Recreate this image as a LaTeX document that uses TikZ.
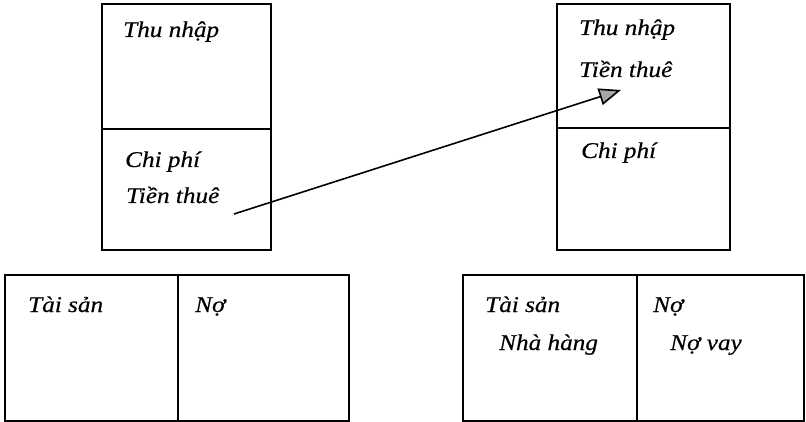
\documentclass[tikz,border=0pt]{standalone}
\usepackage{fontspec}
\setmainfont{Liberation Serif}
\newfontfamily\lbl[FakeStretch=1.12,FakeBold=0.4]{Liberation Serif}
\usetikzlibrary{arrows.meta}
\tikzset{
  cell/.style={draw, line width=1.5pt, rectangle, inner sep=0pt},
  lab/.style={anchor=base west, inner sep=0pt, font=\lbl\itshape\fontsize{22.5}{26}\selectfont},
}
\begin{document}
\begin{tikzpicture}[x=1pt,y=-1pt]
\useasboundingbox (0,0) rectangle (806,422);
% top-left statement
\node[cell, minimum width=169pt, minimum height=125pt] (inc1) at (186.5,66.5) {};
\node[cell, minimum width=169pt, minimum height=121pt] (exp1) at (186.5,189.5) {};
% top-right statement
\node[cell, minimum width=173pt, minimum height=124pt] (inc2) at (643.5,66) {};
\node[cell, minimum width=173pt, minimum height=122pt] (exp2) at (643.5,189) {};
% bottom-left balance
\node[cell, minimum width=173pt, minimum height=146pt] (as1) at (91.5,348) {};
\node[cell, minimum width=171pt, minimum height=146pt] (li1) at (263.5,348) {};
% bottom-right balance
\node[cell, minimum width=174pt, minimum height=146pt] (as2) at (550,348) {};
\node[cell, minimum width=167pt, minimum height=146pt] (li2) at (720.5,348) {};
% labels
\node[lab] (t1) at (123,37) {Thu nhập};
\node[lab] (c1) at (125,167) {Chi phí};
\node[lab] (r1) at (126,203) {Tiền thuê};
\node[lab] (t2) at (579,35) {Thu nhập};
\node[lab] (r2) at (579,77) {Tiền thuê};
\node[lab] (c2) at (581,158) {Chi phí};
\node[lab] (a1) at (28,312) {Tài sản};
\node[lab] (n1) at (195,312) {Nợ};
\node[lab] (a2) at (485,312) {Tài sản};
\node[lab] (h2) at (499,350) {Nhà hàng};
\node[lab] (n2) at (653,312) {Nợ};
\node[lab] (v2) at (670,350) {Nợ vay};
% arrow
\coordinate (from) at (234,214);
\coordinate (to) at (621,90);
\draw[line width=1.6pt, -{Triangle[length=22pt,width=17pt,fill=gray!70,line width=1.6pt]}] (from) -- (to);
\end{tikzpicture}
\end{document}
